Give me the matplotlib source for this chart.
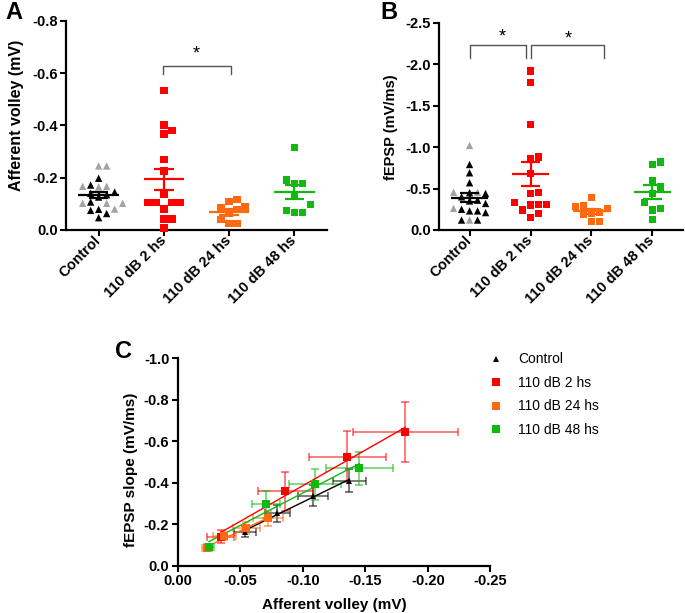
import numpy as np
import matplotlib
matplotlib.use("Agg")
import matplotlib.pyplot as plt
from matplotlib.lines import Line2D

plt.rcParams['font.family'] = ['Liberation Sans', 'DejaVu Sans']
plt.rcParams['axes.unicode_minus'] = False

GROUPS = ["Control", "110 dB 2 hs", "110 dB 24 hs", "110 dB 48 hs"]

# panel A: afferent volley (mV), one value per slice
av_control_black = [-0.198, -0.172, -0.145, -0.140, -0.135, -0.126, -0.107,
                    -0.079, -0.075, -0.063, -0.047]
av_control_gray = [-0.245, -0.245, -0.167, -0.167, -0.165, -0.102, -0.102,
                   -0.102, -0.080]
av_2h = [-0.534, -0.402, -0.380, -0.367, -0.271, -0.226, -0.135, -0.105,
         -0.105, -0.105, -0.105, -0.081, -0.042, -0.042, -0.007]
av_24h = [-0.117, -0.110, -0.088, -0.085, -0.078, -0.062, -0.040, -0.024,
          -0.024]
av_48h = [-0.316, -0.192, -0.178, -0.178, -0.135, -0.097, -0.075, -0.068,
          -0.068]

# panel B: fEPSP slope (mV/ms)
fe_control_black = [-0.79, -0.69, -0.57, -0.45, -0.44, -0.40, -0.36, -0.35,
                    -0.32, -0.25, -0.23, -0.23, -0.21, -0.12, -0.12]
fe_control_gray = [-1.02, -0.455, -0.455, -0.26, -0.12]
fe_2h = [-1.92, -1.78, -1.27, -0.88, -0.86, -0.68, -0.45, -0.44, -0.33,
         -0.31, -0.31, -0.30, -0.24, -0.20, -0.15]
fe_24h = [-0.39, -0.29, -0.28, -0.26, -0.21, -0.20, -0.19, -0.10, -0.10]
fe_48h = [-0.82, -0.79, -0.60, -0.52, -0.44, -0.33, -0.26, -0.24, -0.13]

# panel C: input/output, mean +- SEM per stimulus intensity
io_x = {
    "Control": [-0.0539, -0.0797, -0.1085, -0.1373],
    "110 dB 2 hs": [-0.0344, -0.0859, -0.1357, -0.1818],
    "110 dB 24 hs": [-0.0237, -0.0373, -0.0550, -0.0725],
    "110 dB 48 hs": [-0.0250, -0.0707, -0.1099, -0.1453],
}
io_xerr = {
    "Control": [0.009, 0.010, 0.012, 0.013],
    "110 dB 2 hs": [0.011, 0.022, 0.031, 0.042],
    "110 dB 24 hs": [0.004, 0.009, 0.011, 0.012],
    "110 dB 48 hs": [0.004, 0.011, 0.021, 0.027],
}
io_y = {
    "Control": [-0.164, -0.253, -0.338, -0.410],
    "110 dB 2 hs": [-0.140, -0.360, -0.526, -0.646],
    "110 dB 24 hs": [-0.084, -0.143, -0.183, -0.228],
    "110 dB 48 hs": [-0.090, -0.296, -0.392, -0.470],
}
io_yerr = {
    "Control": [0.025, 0.040, 0.052, 0.057],
    "110 dB 2 hs": [0.030, 0.094, 0.124, 0.145],
    "110 dB 24 hs": [0.012, 0.020, 0.030, 0.035],
    "110 dB 48 hs": [0.012, 0.065, 0.075, 0.080],
}

GRAY = "#a3a3a3"
COLORS = {"Control": "black", "110 dB 2 hs": "#ff0000",
          "110 dB 24 hs": "#ff6a10", "110 dB 48 hs": "#10b810"}
MARKERS = {"Control": "^", "110 dB 2 hs": "s", "110 dB 24 hs": "s",
           "110 dB 48 hs": "s"}
BOLD = dict(fontweight="bold")


def style(ax):
    for s in ("top", "right"):
        ax.spines[s].set_visible(False)
    for s in ("left", "bottom"):
        ax.spines[s].set_linewidth(1.6)
    ax.tick_params(width=1.5, length=4, labelsize=10.5, pad=2)
    for lab in ax.get_xticklabels() + ax.get_yticklabels():
        lab.set_fontweight("bold")


def swarm(ax, xc, vals, d=8.0):
    """GraphPad-like column scatter: nudge points sideways until they don't overlap."""
    vals = np.asarray(vals)
    pts = ax.transData.transform(np.column_stack([np.full(len(vals), xc), vals]))
    ys = pts[:, 1]
    placed = []
    offs = np.zeros(len(vals))
    for i in np.argsort(ys):
        for k in range(60):
            dx = ((k + 1) // 2) * (1 if k % 2 else -1) * d * 0.5
            if all(abs(dx - px) >= d * 0.95 or abs(ys[i] - py) >= d * 0.95
                   for px, py in placed):
                break
        placed.append((dx, ys[i]))
        offs[i] = dx
    unit = ax.transData.transform((1, 0))[0] - ax.transData.transform((0, 0))[0]
    return xc + offs / unit


def column_panel(ax, cols, ylim, yticks, ylabel):
    ax.set_xlim(-0.5, 3.5)
    ax.set_ylim(*ylim)
    ax.set_yticks(yticks)
    ax.set_xticks(range(4))
    ax.set_xticklabels(GROUPS, rotation=45, ha="right", va="center",
                       rotation_mode="anchor")
    for i, (name, groups) in enumerate(zip(GROUPS, cols)):
        vals = np.concatenate([g for g, _ in groups])
        cols_ = sum([[c] * len(g) for g, c in groups], [])
        xs = swarm(ax, i, vals)
        ax.scatter(xs, vals, s=28, marker=MARKERS[name], c=cols_,
                   linewidths=0, zorder=3, clip_on=False)
        m = vals.mean()
        se = vals.std(ddof=1) / np.sqrt(len(vals))
        c = COLORS[name]
        ax.hlines(m, i - 0.31, i + 0.31, color=c, lw=1.6, zorder=4)
        ax.hlines([m - se, m + se], i - 0.15, i + 0.15, color=c, lw=1.6, zorder=4)
        ax.vlines(i, m - se, m + se, color=c, lw=1.6, zorder=4)
    ax.set_ylabel(ylabel, **BOLD)
    style(ax)


def bracket(ax, x0, x1, ytop, yleg, xstar, ystar):
    ax.plot([x0, x0, x1, x1], [yleg, ytop, ytop, yleg], color="#555555",
            lw=1.0, clip_on=False)
    ax.text(xstar, ystar, "*", ha="center", va="center", fontsize=13)


fig = plt.figure(figsize=(6.85, 6.13), dpi=100, facecolor="white")

axA = fig.add_axes([0.0964, 0.6248, 0.381, 0.341])
column_panel(axA,
             [[(av_control_gray, GRAY), (av_control_black, "black")],
              [(av_2h, COLORS["110 dB 2 hs"])],
              [(av_24h, COLORS["110 dB 24 hs"])],
              [(av_48h, COLORS["110 dB 48 hs"])]],
             (0, -0.8), [0.0, -0.2, -0.4, -0.6, -0.8], "Afferent volley (mV)")
axA.yaxis.label.set_fontsize(11.5)
axA.yaxis.set_label_coords(-0.16, 0.55)
bracket(axA, 0.98, 2.03, -0.629, -0.597, 1.5, -0.672)

axB = fig.add_axes([0.641, 0.6248, 0.356, 0.338])
column_panel(axB,
             [[(fe_control_gray, GRAY), (fe_control_black, "black")],
              [(fe_2h, COLORS["110 dB 2 hs"])],
              [(fe_24h, COLORS["110 dB 24 hs"])],
              [(fe_48h, COLORS["110 dB 48 hs"])]],
             (0, -2.5), [0.0, -0.5, -1.0, -1.5, -2.0, -2.5], "fEPSP (mV/ms)")
axB.yaxis.label.set_fontsize(10.5)
axB.yaxis.set_label_coords(-0.17, 0.494)
bracket(axB, 0.0, 0.93, -2.23, -2.08, 0.53, -2.33)
bracket(axB, 1.01, 2.21, -2.23, -2.08, 1.62, -2.31)

axC = fig.add_axes([0.2594, 0.0772, 0.4564, 0.3383])
axC.set_xlim(0, -0.25)
axC.set_ylim(0, -1.0)
axC.set_xticks([0.0, -0.05, -0.10, -0.15, -0.20, -0.25])
axC.set_xticklabels(["0.00", "-0.05", "-0.10", "-0.15", "-0.20", "-0.25"])
axC.set_yticks([0.0, -0.2, -0.4, -0.6, -0.8, -1.0])
handles = []
for name in GROUPS:
    c = COLORS[name]
    x, y = np.array(io_x[name]), np.array(io_y[name])
    axC.errorbar(x, y, xerr=io_xerr[name], yerr=io_yerr[name], fmt="none",
                 ecolor=c, elinewidth=1.1, capsize=3, capthick=1.1,
                 alpha=0.65, zorder=2)
    k, b = np.polyfit(x, y, 1)
    xl = np.array([x.min(), x.max()])
    axC.plot(xl, k * xl + b, color=c, lw=1.0, zorder=3)
    ms = 4.5 if MARKERS[name] == "^" else 5.8
    axC.plot(x, y, ls="none", marker=MARKERS[name], ms=ms, color=c, mew=0,
             zorder=4)
    handles.append(Line2D([], [], ls="none", marker=MARKERS[name],
                          ms=ms, color=c, mew=0))
axC.set_xlabel("Afferent volley (mV)", fontsize=11, **BOLD)
axC.set_ylabel("fEPSP slope (mV/ms)", fontsize=11, **BOLD)
axC.xaxis.set_label_coords(0.5, -0.155)
axC.yaxis.set_label_coords(-0.128, 0.461)
style(axC)
fig.legend(handles, GROUPS, loc="upper left", bbox_to_anchor=(0.714, 0.425),
           frameon=False, fontsize=10, handlelength=1.0, handletextpad=1.1,
           labelspacing=0.68, borderpad=0, borderaxespad=0)

for lbl, x, y in (("A", 0.020, 0.979), ("B", 0.568, 0.979), ("C", 0.181, 0.427)):
    fig.text(x, y, lbl, fontsize=17, fontweight="bold", ha="center", va="center")

fig.savefig("out.png", dpi=100, facecolor="white")
